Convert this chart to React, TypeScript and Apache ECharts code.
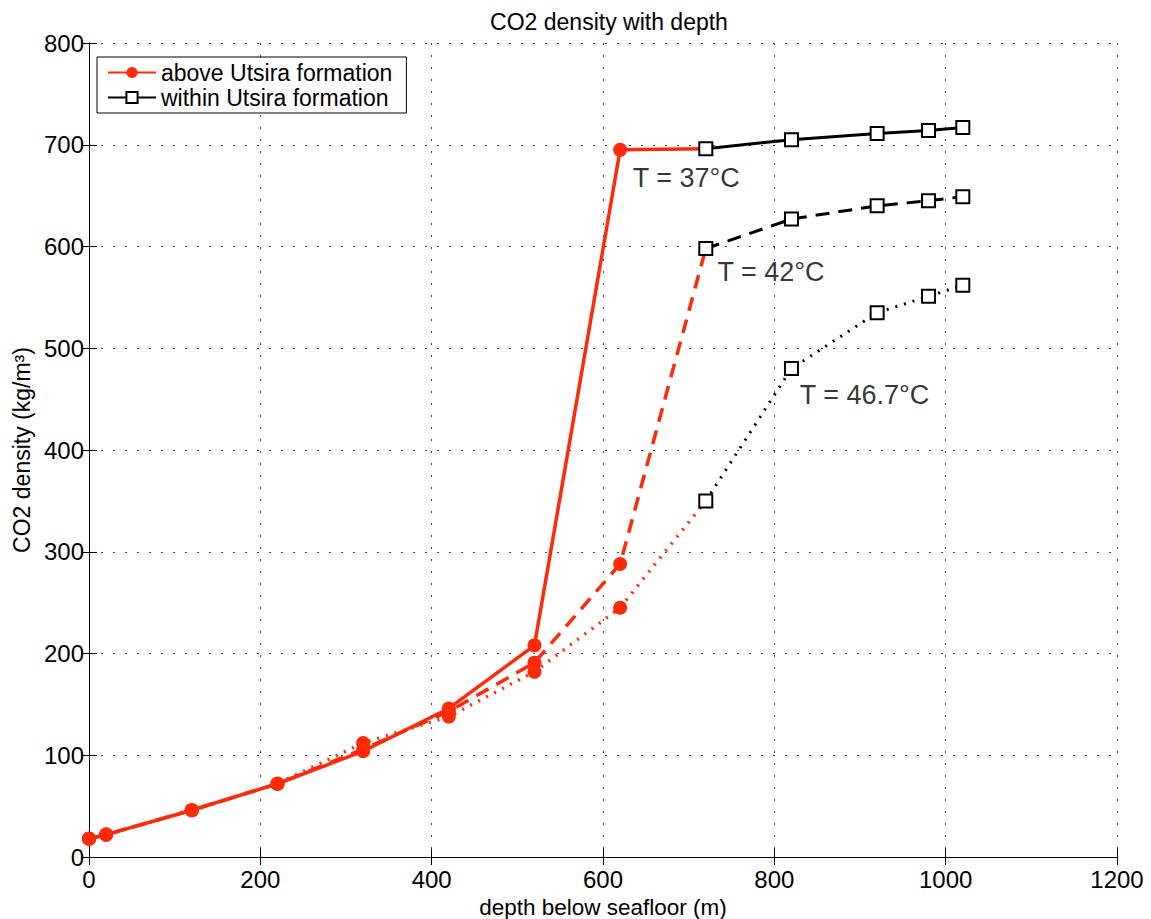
import React, { useEffect, useRef } from "react";
import * as echarts from "echarts";

const xTicks = [0, 200, 400, 600, 800, 1000, 1200];
const yTicks = [0, 100, 200, 300, 400, 500, 600, 700, 800];

const depthAbove = [0, 20, 120, 220, 320, 420, 520, 620, 720];
const rho37Above = [18, 22, 46, 72, 104, 146, 208, 695, 696];
const rho42Above = [18, 22, 46, 72, 106, 143, 191, 288, 598];
const rho467Above = [18, 22, 46, 72, 112, 138, 182, 245, 350];

const depthWithin = [720, 820, 920, 980, 1020];
const rho37Within = [696, 705, 711, 714, 717];
const rho42Within = [598, 627, 640, 645, 649];
const rho467Within = [350, 480, 535, 551, 562];

const labelX = [634, 733, 829];
const labelY = [667, 575, 454];
const labelText = ["T = 37°C", "T = 42°C", "T = 46.7°C"];

const RED = "#ff2a0a";
const FONT = '"Liberation Sans", Arial, Helvetica, sans-serif';

const zip = (xs: number[], ys: number[]) => xs.map((x, i) => [x, ys[i]]);

export default function App() {
  const ref = useRef<HTMLDivElement>(null);
  useEffect(() => {
    if (!ref.current) return;
    const chart = echarts.init(ref.current, undefined, { renderer: "svg" });
    const dashStyles: any[] = ["solid", [14, 9], [2, 7]];
    const aboveData = [rho37Above, rho42Above, rho467Above];
    const withinData = [rho37Within, rho42Within, rho467Within];
    const redSeries = aboveData.map((ys, i) => ({
      name: "above Utsira formation",
      type: "line",
      data: zip(depthAbove, ys),
      symbol: "circle",
      symbolSize: 14,
      lineStyle: { color: RED, width: 3.5, type: dashStyles[i] },
      itemStyle: { color: RED },
      z: 3,
    }));
    const blackSeries = withinData.map((ys, i) => ({
      name: "within Utsira formation",
      type: "line",
      data: zip(depthWithin, ys),
      symbol: "emptyRect",
      symbolSize: 13,
      lineStyle: { color: "#000", width: 3, type: dashStyles[i] },
      itemStyle: { color: "#000", borderWidth: 2.5 },
      z: 4,
    }));
    const labelSeries = {
      name: "labels",
      type: "scatter",
      symbolSize: 1,
      itemStyle: { color: "transparent" },
      data: labelX.map((x, i) => ({ value: [x, labelY[i]], name: labelText[i] })),
      label: {
        show: true,
        position: "right",
        distance: 0,
        formatter: (p: any) => p.name,
        color: "#000",
        fontSize: 27,
        fontFamily: FONT,
      },
      z: 5,
      silent: true,
    };
    const axisText = { color: "#000", fontSize: 23, fontFamily: FONT };
    const tickText = { color: "#000", fontSize: 24, fontFamily: FONT };
    const splitLine = { show: true, lineStyle: { color: "#444", type: [2, 10], width: 1 } };
    chart.setOption({
      animation: false,
      backgroundColor: "#fff",
      title: {
        text: "CO2 density with depth",
        left: 604,
        textAlign: "center",
        top: 5,
        textStyle: { color: "#000", fontSize: 23, fontWeight: "normal", fontFamily: FONT },
      },
      legend: {
        data: ["above Utsira formation", "within Utsira formation"],
        orient: "vertical",
        left: 97,
        top: 57,
        padding: [4, 14, 4, 10],
        itemGap: 2,
        itemWidth: 48,
        itemHeight: 14,
        borderColor: "#000",
        borderWidth: 1,
        borderRadius: 0,
        backgroundColor: "#fff",
        textStyle: { color: "#000", fontSize: 23, fontFamily: FONT },
      },
      grid: { left: 89, right: 34, top: 43, bottom: 62, containLabel: false, outerBoundsMode: "none" },
      xAxis: [
        {
          type: "value",
          min: 0,
          max: 1200,
          interval: 200,
          name: "depth below seafloor (m)",
          nameLocation: "middle",
          nameGap: 33,
          nameTextStyle: { ...axisText, fontSize: 22.5 },
          axisLine: { show: true, onZero: false, lineStyle: { color: "#000", width: 1 } },
          axisTick: { show: true, inside: true, length: 8, lineStyle: { color: "#000" } },
          axisLabel: { ...tickText, margin: 10, formatter: (v: number) => String(v) },
          splitLine,
        },
        {
          type: "value",
          position: "top",
          min: 0,
          max: 1200,
          interval: 200,
          axisLine: { show: true, lineStyle: { color: "#000", width: 1 } },
          axisTick: { show: true, inside: true, length: 8, lineStyle: { color: "#000" } },
          axisLabel: { show: false },
          splitLine: { show: false },
        },
      ],
      yAxis: [
        {
          type: "value",
          min: 0,
          max: 800,
          interval: 100,
          name: "CO2 density (kg/m³)",
          nameLocation: "middle",
          nameGap: 50,
          nameTextStyle: axisText,
          axisLine: { show: true, onZero: false, lineStyle: { color: "#000", width: 1 } },
          axisTick: { show: true, inside: true, length: 8, lineStyle: { color: "#000" } },
          axisLabel: { ...tickText, margin: 5, formatter: (v: number) => String(v) },
          splitLine,
        },
        {
          type: "value",
          position: "right",
          min: 0,
          max: 800,
          interval: 100,
          axisLine: { show: true, lineStyle: { color: "#000", width: 1 } },
          axisTick: { show: true, inside: true, length: 8, lineStyle: { color: "#000" } },
          axisLabel: { show: false },
          splitLine: { show: false },
        },
      ],
      series: [...redSeries, ...blackSeries, labelSeries],
    });
    return () => chart.dispose();
  }, []);
  return <div ref={ref} style={{ width: 1151, height: 919, position: "absolute", left: 0, top: 0 }} />;
}
